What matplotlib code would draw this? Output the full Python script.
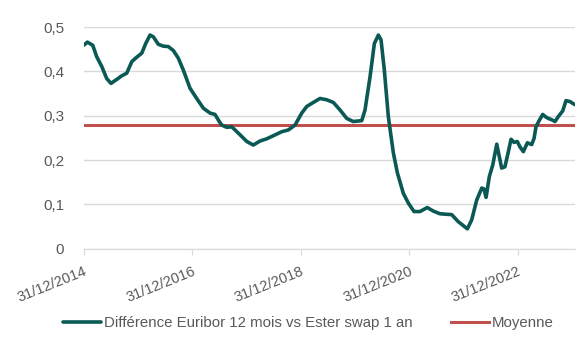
import numpy as np
import pandas as pd
import matplotlib
matplotlib.use("Agg")
import matplotlib.pyplot as plt
import matplotlib.dates as mdates
from matplotlib.ticker import FuncFormatter, MultipleLocator

# Spread Euribor 12M vs Ester swap 1Y
dates = [
    "2014-12-31", "2015-01-25", "2015-03-02", "2015-03-29", "2015-05-02", "2015-06-04",
    "2015-07-03", "2015-08-11", "2015-09-13", "2015-10-17", "2015-11-20", "2015-12-23",
    "2016-01-26", "2016-02-22", "2016-03-22", "2016-04-13", "2016-05-17", "2016-06-19",
    "2016-07-23", "2016-08-26", "2016-09-28", "2016-11-01", "2016-12-16", "2017-01-30",
    "2017-03-16", "2017-04-30", "2017-06-02", "2017-07-01", "2017-07-18", "2017-08-20",
    "2017-09-23", "2017-11-18", "2018-01-02", "2018-02-15", "2018-04-01", "2018-05-16",
    "2018-06-30", "2018-08-25", "2018-10-09", "2018-11-23", "2019-01-07", "2019-02-10",
    "2019-03-26", "2019-05-10", "2019-06-24", "2019-08-08", "2019-09-22", "2019-11-06",
    "2019-12-20", "2020-02-15", "2020-03-08", "2020-04-11", "2020-05-10", "2020-06-06",
    "2020-06-24", "2020-07-16", "2020-08-12", "2020-09-15", "2020-10-12", "2020-11-21",
    "2020-12-25", "2021-02-01", "2021-03-13", "2021-05-01", "2021-06-11", "2021-07-26",
    "2021-10-13", "2021-11-26", "2021-12-08", "2022-01-26", "2022-02-24", "2022-03-30",
    "2022-05-03", "2022-05-18", "2022-06-01", "2022-06-23", "2022-07-16", "2022-08-12",
    "2022-08-29", "2022-09-14", "2022-10-06", "2022-10-29", "2022-11-16", "2022-12-06",
    "2022-12-28", "2023-01-15", "2023-02-07", "2023-03-06", "2023-04-04", "2023-04-20",
    "2023-05-03", "2023-05-21", "2023-06-17", "2023-07-09", "2023-07-25", "2023-08-17",
    "2023-09-08", "2023-09-30", "2023-10-30", "2023-11-21", "2023-12-18", "2024-01-05",
    "2024-01-21",
]
spread = [
    0.459, 0.466, 0.459, 0.433, 0.411, 0.384,
    0.373, 0.382, 0.390, 0.396, 0.422, 0.432,
    0.441, 0.463, 0.482, 0.478, 0.461, 0.457,
    0.456, 0.447, 0.430, 0.403, 0.362, 0.339,
    0.317, 0.306, 0.303, 0.287, 0.279, 0.274,
    0.275, 0.257, 0.242, 0.234, 0.243, 0.248,
    0.255, 0.264, 0.268, 0.279, 0.306, 0.321,
    0.330, 0.339, 0.336, 0.330, 0.313, 0.294,
    0.287, 0.289, 0.313, 0.388, 0.463, 0.482,
    0.471, 0.403, 0.298, 0.216, 0.171, 0.125,
    0.103, 0.084, 0.084, 0.093, 0.085, 0.079,
    0.077, 0.061, 0.058, 0.045, 0.065, 0.110,
    0.137, 0.135, 0.116, 0.163, 0.189, 0.236,
    0.208, 0.182, 0.185, 0.219, 0.247, 0.240,
    0.242, 0.230, 0.219, 0.239, 0.235, 0.249,
    0.275, 0.287, 0.303, 0.297, 0.294, 0.291,
    0.287, 0.298, 0.311, 0.334, 0.332, 0.328,
    0.325,
]
mean_value = 0.28
tick_dates = ["2014-12-31", "2016-12-31", "2018-12-31", "2020-12-31", "2022-12-31"]

x = pd.to_datetime(dates)
ticks = pd.to_datetime(tick_dates)

plt.rcParams['font.family'] = ['Liberation Sans', 'DejaVu Sans']
grey = '#595959'

fig = plt.figure(figsize=(5.85, 3.47), dpi=100)
ax = fig.add_axes([0.143, 0.283, 0.840, 0.639])

ax.plot(x, spread, color='#0B5954', lw=2.6, solid_capstyle='round',
        label='Différence Euribor 12 mois vs Ester swap 1 an', zorder=3)
ax.plot([x[0], x[-1]], [mean_value, mean_value], color='#C0504D', lw=2.2,
        label='Moyenne', zorder=2)

ax.set_xlim(x[0], x[-1])
ax.set_ylim(0, 0.5)
ax.yaxis.set_major_locator(MultipleLocator(0.1))
ax.yaxis.set_major_formatter(FuncFormatter(
    lambda v, p: '0' if abs(v) < 1e-9 else f'{v:.1f}'.replace('.', ',')))
ax.grid(axis='y', color='#D9D9D9', lw=1)
ax.set_axisbelow(True)

ax.set_xticks(ticks)
ax.xaxis.set_major_formatter(mdates.DateFormatter('%d/%m/%Y'))
plt.setp(ax.get_xticklabels(), rotation=22, ha='right', rotation_mode='anchor')

for s in ['top', 'right', 'left']:
    ax.spines[s].set_visible(False)
ax.spines['bottom'].set_color('#D9D9D9')
ax.tick_params(axis='y', length=0, labelsize=11, colors=grey, pad=14)
ax.tick_params(axis='x', length=4, color='#D9D9D9', labelsize=10.5, colors=grey, pad=7)
for lbl in ax.get_xticklabels():
    lbl.set_color(grey)

leg = fig.legend(loc='center', bbox_to_anchor=(0.527, 0.068), ncol=2, frameon=False,
                 fontsize=10.8, handlelength=2.5, handletextpad=0.2, columnspacing=2.6)
for t in leg.get_texts():
    t.set_color(grey)

fig.savefig('out.png', dpi=100)
